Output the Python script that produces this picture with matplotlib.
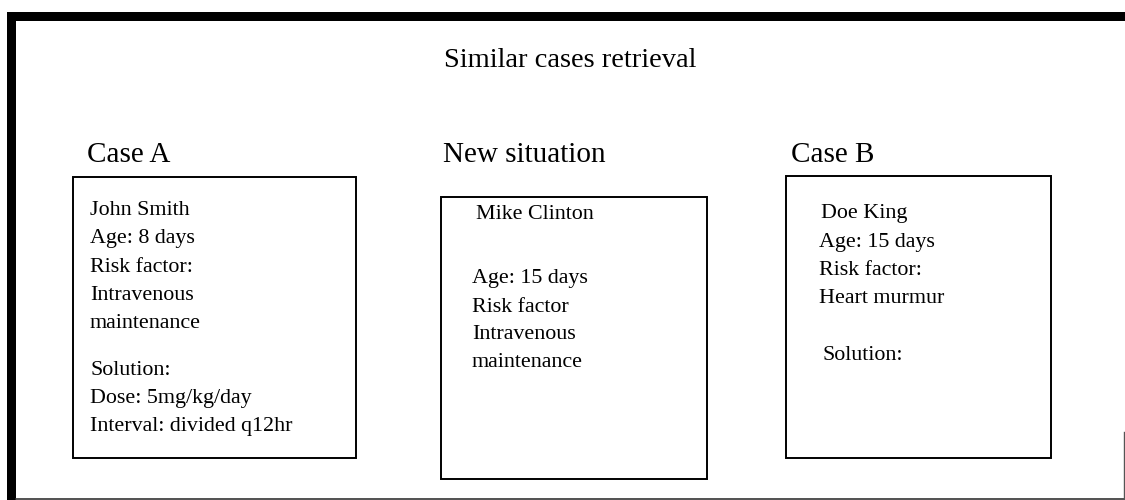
import matplotlib.pyplot as plt
from matplotlib.patches import Rectangle

plt.rcParams['font.family'] = ['Liberation Serif', 'DejaVu Serif']

# texts
title = 'Similar cases retrieval'
headers = ['Case A', 'New situation', 'Case B']
case_a_lines = ['John Smith', 'Age: 8 days', 'Risk factor:', 'Intravenous', 'maintenance',
                'Solution:', 'Dose: 5mg/kg/day', 'Interval: divided q12hr']
new_lines = ['Mike Clinton', 'Age: 15 days', 'Risk factor', 'Intravenous', 'maintenance']
case_b_lines = ['Doe King', 'Age: 15 days', 'Risk factor:', 'Heart murmur', 'Solution:']

# layout in pixel coords (y down)
header_x = [87, 443, 791]
boxes = [(73, 177, 356, 458), (441, 197, 707, 479), (786, 176, 1051, 458)]
case_a_base = [215, 243, 272, 300, 328, 375, 403, 431]
new_base = [219, 283, 312, 339, 367]
new_x = [476, 472, 472, 472, 472]
case_b_base = [218, 247, 275, 303, 360]
case_b_x = [821, 819, 819, 819, 822]

fig = plt.figure(figsize=(11.25, 5), dpi=100)
ax = fig.add_axes([0, 0, 1, 1])
ax.set_xlim(0, 1125)
ax.set_ylim(500, 0)
ax.axis('off')

# outer frame: thick top and left, thin bottom, a stub on the right
ax.add_patch(Rectangle((7, 12), 1118, 9, color='black', lw=0))
ax.add_patch(Rectangle((7, 12), 9, 488, color='black', lw=0))
ax.plot([16, 1125], [498.5, 498.5], color='#333333', lw=1.2)
ax.plot([1124, 1124], [432, 498.5], color='#555555', lw=1)

ax.text(444, 67, title, fontsize=20.5, va='baseline')
for x, h in zip(header_x, headers):
    ax.text(x, 162, h, fontsize=21, va='baseline')

for x0, y0, x1, y1 in boxes:
    ax.add_patch(Rectangle((x0, y0), x1 - x0, y1 - y0, fill=False, ec='black', lw=1.4))

for y, s in zip(case_a_base, case_a_lines):
    ax.text(90, y, s, fontsize=15.8, va='baseline')
for x, y, s in zip(new_x, new_base, new_lines):
    ax.text(x, y, s, fontsize=15.8, va='baseline')
for x, y, s in zip(case_b_x, case_b_base, case_b_lines):
    ax.text(x, y, s, fontsize=15.8, va='baseline')

plt.savefig('out.png', dpi=100)
